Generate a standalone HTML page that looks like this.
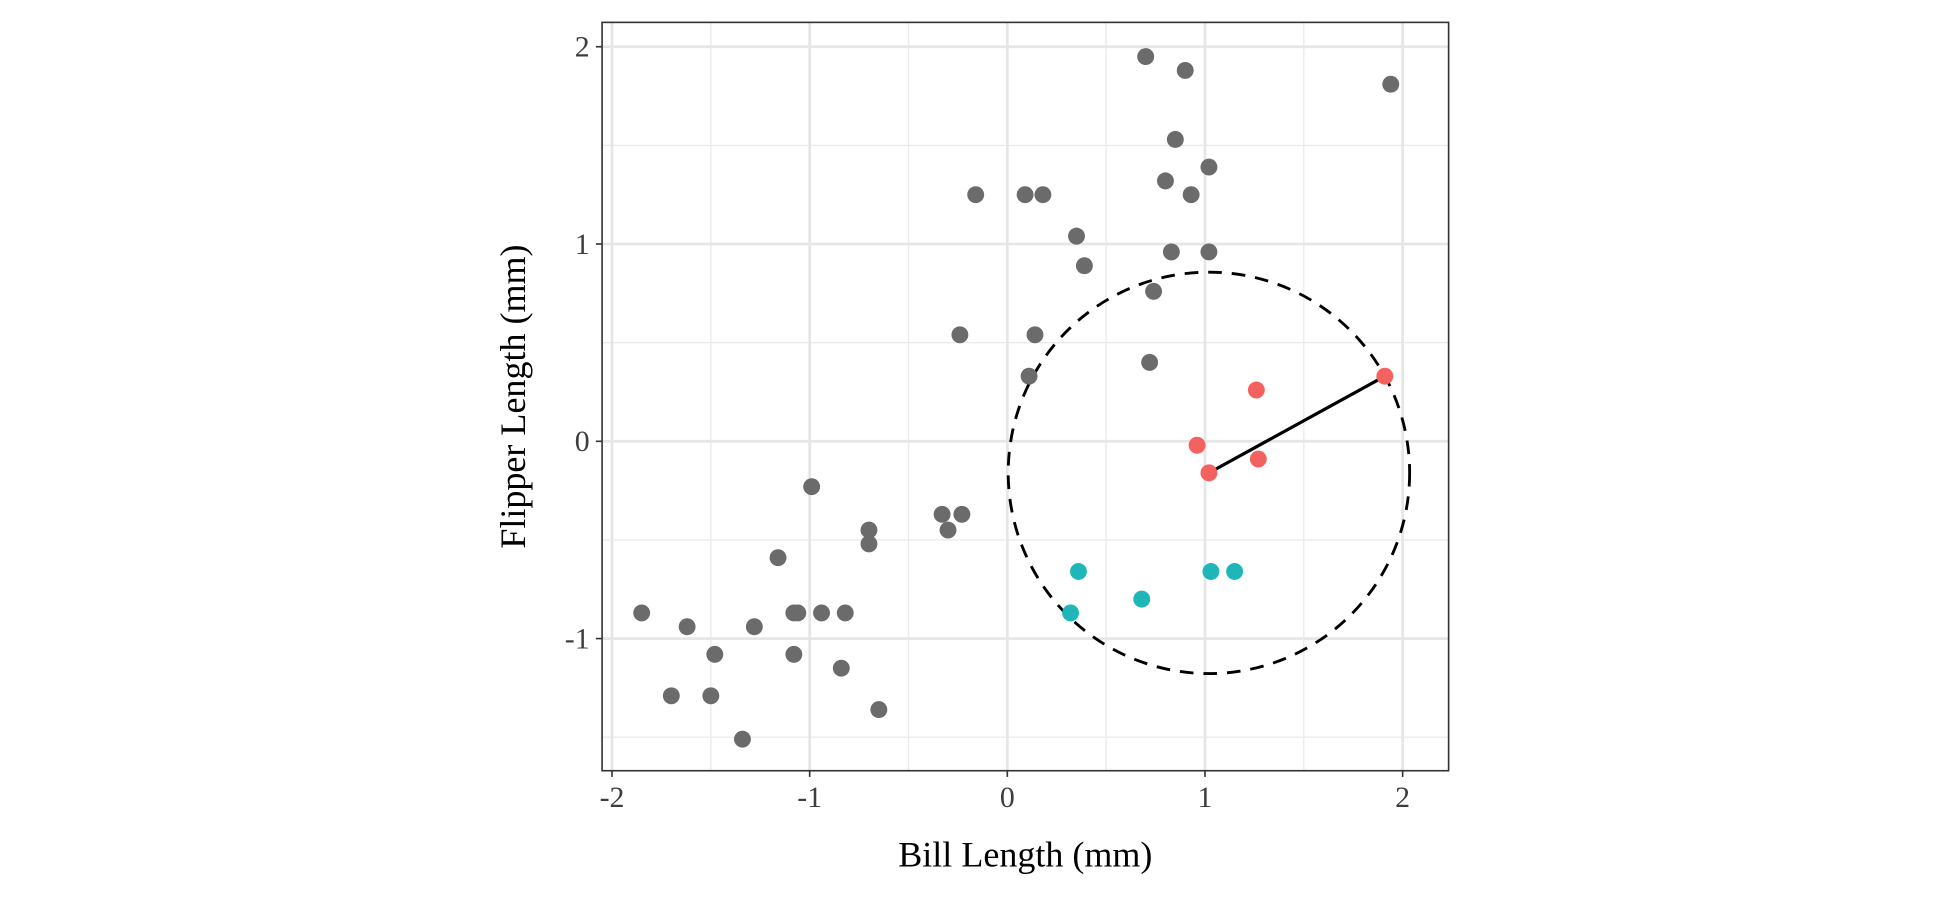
<!DOCTYPE html>
<html><head><meta charset="utf-8"><style>
html,body{margin:0;padding:0;background:#fff;}
svg{display:block;}
text{font-family:"Liberation Serif",serif;}
</style></head><body>
<svg id="chart" width="1950" height="900" viewBox="0 0 1568 724" xmlns="http://www.w3.org/2000/svg">
<g id="grid"></g>
<g id="marks"></g>
<g id="axes"></g>
<text x="824.5" y="697" font-size="29" text-anchor="middle" fill="#000">Bill Length (mm)</text>
<text transform="translate(422,319) rotate(-90)" font-size="29" text-anchor="middle" fill="#000">Flipper Length (mm)</text>
</svg>
<script>
const grayX=[-1.85,-1.70,-1.62,-1.48,-1.50,-1.34,-1.28,-1.16,-1.08,-1.06,-1.08,-0.94,-0.82,-0.84,-0.65,-0.99,-0.70,-0.70,-0.33,-0.23,-0.30,-0.24,-0.16,0.09,0.18,0.14,0.11,0.35,0.39,0.70,0.90,0.85,0.80,0.93,1.02,0.83,1.02,0.74,0.72,1.94];
const grayY=[-0.87,-1.29,-0.94,-1.08,-1.29,-1.51,-0.94,-0.59,-0.87,-0.87,-1.08,-0.87,-0.87,-1.15,-1.36,-0.23,-0.45,-0.52,-0.37,-0.37,-0.45,0.54,1.25,1.25,1.25,0.54,0.33,1.04,0.89,1.95,1.88,1.53,1.32,1.25,1.39,0.96,0.96,0.76,0.40,1.81];
const redX=[0.96,1.26,1.02,1.27,1.91];
const redY=[-0.02,0.26,-0.16,-0.09,0.33];
const tealX=[0.36,0.32,0.68,1.03,1.15];
const tealY=[-0.66,-0.87,-0.80,-0.66,-0.66];
const centerIndex=2, farIndex=4;
const xTicks=[-2,-1,0,1,2];
const yTicks=[-1,0,1,2];
const xTickLabels=["-2","-1","0","1","2"];
const yTickLabels=["-1","0","1","2"];

const L=484,R=1165,T=18,B=620;
const sx=v=>810+v*159;
const sy=v=>355-v*158.7;
const NS="http://www.w3.org/2000/svg";
function mk(tag,attrs,parent){const e=document.createElementNS(NS,tag);for(const k in attrs)e.setAttribute(k,attrs[k]);parent.appendChild(e);return e;}
const grid=document.getElementById('grid'),marks=document.getElementById('marks'),axes=document.getElementById('axes');
mk('rect',{x:L,y:T,width:R-L,height:B-T,fill:'#fff'},grid);
for(let v=-2.5;v<=2.5;v+=1){const p=sx(v);if(p>L&&p<R){const l=mk('line',{x1:p,x2:p,y1:T,y2:B,stroke:'#ebebeb','stroke-width':1.1},grid);}}
for(let v=-1.5;v<=2.5;v+=1){const p=sy(v);if(p>T&&p<B){const l=mk('line',{x1:L,x2:R,y1:p,y2:p,stroke:'#ebebeb','stroke-width':1.1},grid);}}
xTicks.forEach(v=>{const l=mk('line',{x1:sx(v),x2:sx(v),y1:T,y2:B,stroke:'#e6e6e6','stroke-width':2.2},grid);});
yTicks.forEach(v=>{const l=mk('line',{x1:L,x2:R,y1:sy(v),y2:sy(v),stroke:'#e6e6e6','stroke-width':2.2},grid);});

const cx=redX[centerIndex],cy=redY[centerIndex];
const r=Math.hypot((redX[farIndex]-cx)*159,(redY[farIndex]-cy)*158.7);
const c=mk('circle',{cx:sx(cx),cy:sy(cy),r:r,fill:'none',stroke:'#000','stroke-width':2.3,'stroke-dasharray':'11,8'},marks);


const seg=mk('line',{x1:sx(cx),y1:sy(cy),x2:sx(redX[farIndex]),y2:sy(redY[farIndex]),stroke:'#000','stroke-width':2.6},marks);



function pts(xs,ys,col,name){xs.forEach((x,i)=>{const p=mk('circle',{cx:sx(x),cy:sy(ys[i]),r:6.8,fill:col},marks);

});}
pts(grayX,grayY,'#6b6b6b','gray-point');
pts(tealX,tealY,'#1fb6ba','teal-point');
pts(redX,redY,'#f4625f','red-point');

mk('rect',{x:L,y:T,width:R-L,height:B-T,fill:'none',stroke:'#333','stroke-width':1.3},axes);
xTicks.forEach((v,i)=>{mk('line',{x1:sx(v),x2:sx(v),y1:B,y2:B+5,stroke:'#333','stroke-width':1.3},axes);
const t=mk('text',{x:sx(v),y:B+29,'font-size':24,'text-anchor':'middle',fill:'#3d3d3d'},axes);t.textContent=xTickLabels[i];

});
yTicks.forEach((v,i)=>{mk('line',{x1:L-5,x2:L,y1:sy(v),y2:sy(v),stroke:'#333','stroke-width':1.3},axes);
const t=mk('text',{x:L-10,y:sy(v)+8,'font-size':24,'text-anchor':'end',fill:'#3d3d3d'},axes);t.textContent=yTickLabels[i];

});
</script>
</body></html>
